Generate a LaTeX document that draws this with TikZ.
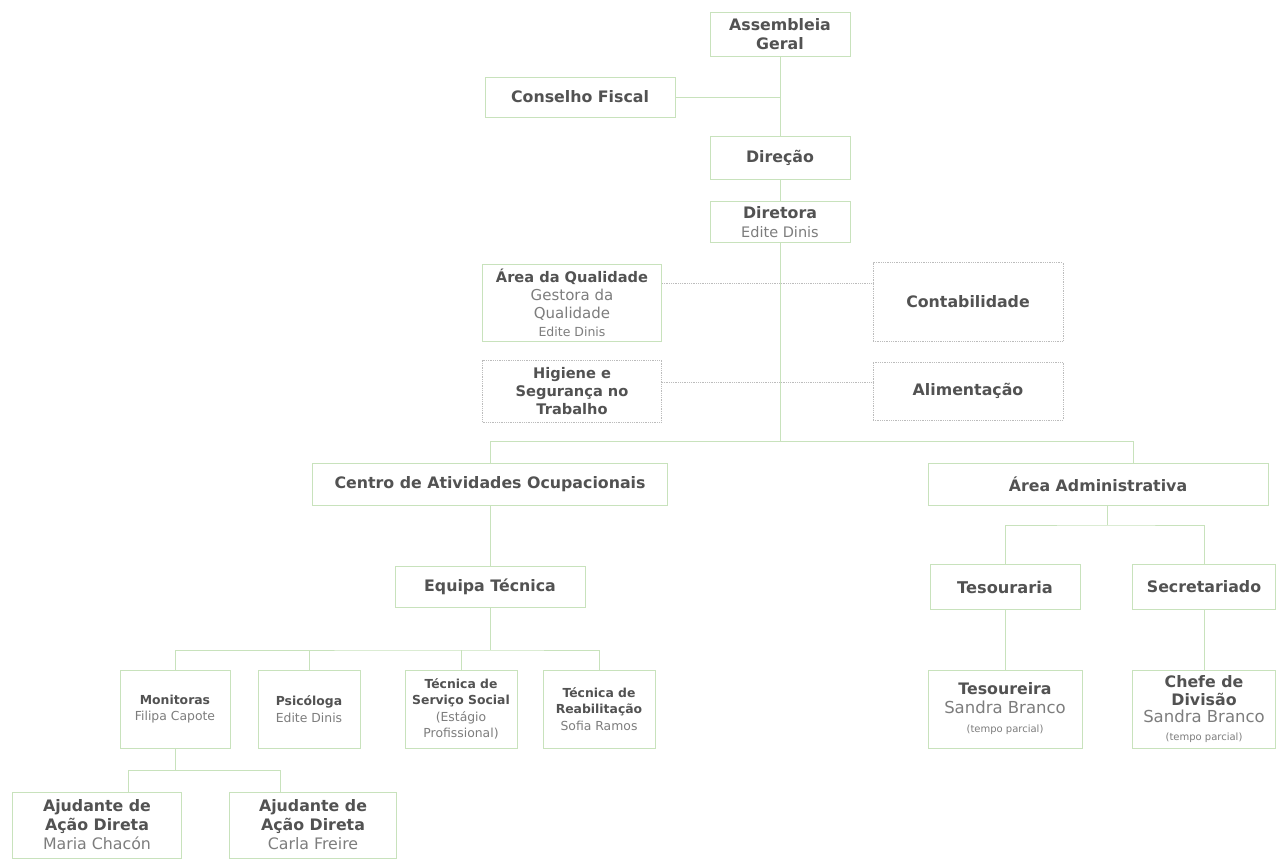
\documentclass[tikz,border=0pt]{standalone}
\usepackage{fontspec}
\setmainfont{DejaVu Sans}
\usetikzlibrary{positioning,calc}
\definecolor{boxgreen}{RGB}{200,226,188}
\definecolor{titlegray}{RGB}{82,82,82}
\definecolor{namegray}{RGB}{125,125,125}
\definecolor{dotgray}{RGB}{188,188,188}
\newcommand{\person}[1]{{\mdseries\color{namegray}#1}}
\newcommand{\parttime}{{\mdseries\color{namegray}\fontsize{10}{12}\selectfont(tempo parcial)}}

\begin{document}
\begin{tikzpicture}[x=1pt,y=-1pt]
\tikzset{box/.style 2 args={
    draw=boxgreen, line width=0.8pt,
    fill=white, text=titlegray,
    minimum width=#1, minimum height=#2,
    align=center, inner sep=2pt,
    font=\fontsize{15.8}{19}\selectfont\bfseries
  },
  extra/.style 2 args={box={#1}{#2}, draw=dotgray, densely dotted},
  small box/.style 2 args={box={#1}{#2}, font=\fontsize{12.4}{16.5}\selectfont\bfseries},
  link/.style={draw=boxgreen, line width=0.8pt},
  dotlink/.style={draw=dotgray, line width=0.8pt, densely dotted}
}

\useasboundingbox (0,0) rectangle (1277,861);

\node[box={140}{44}] (assembleia) at (780,34) {Assembleia\\Geral};
\node[box={190}{40}] (conselho) at (580,97) {Conselho Fiscal};
\node[box={140}{43}] (direcao) at (780,158) {Direção};
\node[box={140}{41}] (diretora) at (780,222) {Diretora\\\person{\fontsize{14.5}{16}\selectfont Edite Dinis}};

\node[box={179}{77}, font=\fontsize{14.6}{18}\selectfont\bfseries] (qualidade) at (572,303)
  {Área da Qualidade\\\person{\fontsize{15}{18}\selectfont Gestora da}\\\person{\fontsize{15}{18}\selectfont Qualidade}\\\person{\fontsize{12.5}{18}\selectfont Edite Dinis}};
\node[extra={179}{62}, font=\fontsize{14.6}{18}\selectfont\bfseries] (higiene) at (572,391) {Higiene e\\Segurança no\\Trabalho};
\node[extra={190}{79}] (contab) at (968,302) {Contabilidade};
\node[extra={190}{58}] (alim) at (968,391) {Alimentação};

\node[box={355}{42}] (cao) at (490,484) {Centro de Atividades Ocupacionais};
\node[box={340}{42}] (admin) at (1098,484) {Área Administrativa};
\node[box={190}{41}] (equipa) at (490,587) {Equipa Técnica};
\node[box={150}{45}, font=\fontsize{16.2}{19}\selectfont\bfseries] (tesouraria) at (1005,587) {Tesouraria};
\node[box={143}{45}] (secretariado) at (1204,587) {Secretariado};

\node[small box={110}{78}] (monitoras) at (175,709) {Monitoras\\\person{Filipa Capote}};
\node[small box={102}{78}] (psicologa) at (309,709) {Psicóloga\\\person{Edite Dinis}};
\node[small box={112}{78}] (tss) at (461,709) {Técnica de\\Serviço Social\\\person{(Estágio}\\\person{Profissional)}};
\node[small box={112}{78}] (treab) at (599,709) {Técnica de\\Reabilitação\\\person{Sofia Ramos}};
\node[box={154}{78}] (tesoureira) at (1005,709) {Tesoureira\\\person{\fontsize{16.5}{19}\selectfont Sandra Branco}\\\parttime};
\node[box={143}{78}, font=\fontsize{15.8}{17.5}\selectfont\bfseries] (chefe) at (1204,709) {Chefe de\\Divisão\\\person{\fontsize{16.5}{17.5}\selectfont Sandra Branco}\\\parttime};

\node[box={169}{66}] (aj1) at (97,825) {Ajudante de\\Ação Direta\\\person{Maria Chacón}};
\node[box={167}{66}] (aj2) at (313,825) {Ajudante de\\Ação Direta\\\person{Carla Freire}};

\coordinate (bus) at (780,441);
\coordinate (busL) at (490,441);
\coordinate (busR) at (1133,441);
\coordinate (admbus) at (1107,525);
\coordinate (eqbus) at (490,650);
\coordinate (monL) at (128,770);
\coordinate (monR) at (280,770);

\draw[link] (assembleia) -- (direcao);
\draw[link] (conselho) -- (conselho -| direcao);
\draw[link] (direcao) -- (diretora);
\draw[link] (diretora) -- (bus);
\draw[dotlink] ([yshift=20pt]qualidade.east) -- ([yshift=20pt]qualidade.east -| contab.west);
\draw[dotlink] ([yshift=9pt]higiene.east) -- ([yshift=9pt]higiene.east -| alim.west);
\draw[link] (busL) -- (busR);
\draw[link] (busL) -- (cao);
\draw[link] (busR) -- (busR |- admin.north);
\draw[link] (cao) -- (equipa);
\draw[link] (admbus |- admin.south) -- (admbus);
\draw[link] (tesouraria) |- (admbus) -| (secretariado);
\draw[link] (tesouraria) -- (tesoureira);
\draw[link] (secretariado) -- (chefe);
\draw[link] (equipa) -- (eqbus);
\draw[link] (monitoras) |- (eqbus) -| (treab);
\draw[link] (psicologa) -- (psicologa |- eqbus);
\draw[link] (tss) -- (tss |- eqbus);
\draw[link] (monitoras) -- (monitoras |- monL);
\draw[link] (monL |- aj1.north) |- (monR) -- (monR |- aj2.north);

\end{tikzpicture}
\end{document}
